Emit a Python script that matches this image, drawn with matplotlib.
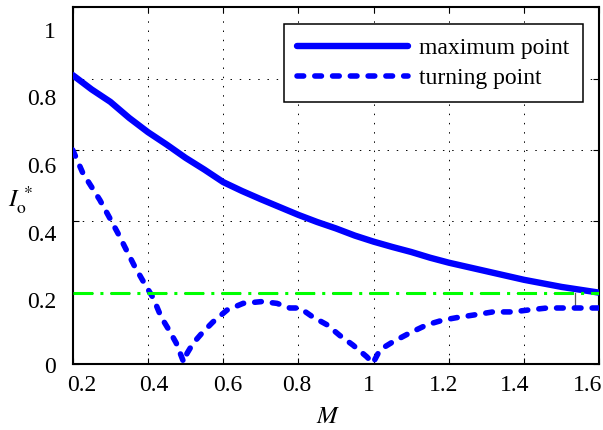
import matplotlib
matplotlib.use("Agg")
import matplotlib.pyplot as plt
from matplotlib.transforms import ScaledTranslation

# maximum point curve
m_max = [0.20, 0.25, 0.30, 0.35, 0.40, 0.45, 0.50, 0.55, 0.60, 0.65, 0.70, 0.75,
         0.80, 0.85, 0.90, 0.95, 1.00, 1.05, 1.10, 1.15, 1.20, 1.25, 1.30, 1.35,
         1.40, 1.45, 1.50, 1.55, 1.60]
i_max = [0.810, 0.770, 0.735, 0.690, 0.650, 0.615, 0.578, 0.545, 0.510, 0.485,
         0.462, 0.440, 0.418, 0.398, 0.380, 0.360, 0.343, 0.328, 0.314, 0.298,
         0.284, 0.272, 0.260, 0.248, 0.236, 0.226, 0.216, 0.208, 0.200]

# turning point curve
m_turn = [0.200, 0.227, 0.272, 0.298, 0.320, 0.363, 0.390, 0.414, 0.435, 0.456,
          0.475, 0.495, 0.504, 0.520, 0.544, 0.573, 0.610, 0.653, 0.703, 0.743,
          0.777, 0.804, 0.838, 0.876, 0.910, 0.945, 0.982, 0.998, 1.017, 1.051,
          1.096, 1.142, 1.184, 1.221, 1.264, 1.317, 1.370, 1.408, 1.461, 1.514,
          1.567, 1.600]
i_turn = [0.600, 0.535, 0.460, 0.410, 0.367, 0.277, 0.227, 0.185, 0.132, 0.095,
          0.059, 0.005, 0.030, 0.058, 0.087, 0.118, 0.151, 0.170, 0.175, 0.170,
          0.157, 0.157, 0.132, 0.110, 0.080, 0.053, 0.020, 0.002, 0.040, 0.062,
          0.087, 0.110, 0.123, 0.130, 0.137, 0.146, 0.146, 0.151, 0.157, 0.157,
          0.157, 0.157]

# horizontal reference level and the small marker between curves
ref_level = 0.2
ref_span = [0.2, 1.6]
mark_m = 1.535
mark_i = [0.157, 0.2]

x_ticks = [0.2, 0.4, 0.6, 0.8, 1.0, 1.2, 1.4, 1.6]
x_labels = ["0.2", "0.4", "0.6", "0.8", "1", "1.2", "1.4", "1.6"]
y_ticks = [0, 0.2, 0.4, 0.6, 0.8, 1.0]
y_labels = ["0", "0.2", "0.4", "0.6", "0.8", "1"]

# the exported figure has its tick labels drawn slightly off their ticks (pixels)
x_label_shift = [9, 6, 5, -2, -5, -5, -9, -12]
y_label_shift = [-1, -7, -12, -15, -18, -23]

plt.rcParams["font.family"] = ["Liberation Serif", "DejaVu Serif"]
plt.rcParams["mathtext.fontset"] = "stix"

fig = plt.figure(figsize=(6.03, 4.30), dpi=100)
ax = fig.add_axes([0.1206, 0.1535, 0.8733, 0.8295])

ax.plot(m_max, i_max, color=(0, 0, 1), lw=4.6, solid_capstyle="round",
        solid_joinstyle="round", label="maximum point", zorder=3)
ax.plot(m_turn, i_turn, color=(0, 0, 1), lw=4.0, dashes=(1.2, 2.0),
        dash_capstyle="round", label="turning point", zorder=3)
ax.plot(ref_span, [ref_level, ref_level], color=(0, 1, 0), lw=2.2,
        dashes=(6.5, 2.3, 1.0, 2.3), zorder=4)
ax.plot([mark_m, mark_m], mark_i, color="0.35", lw=0.9, zorder=2)

ax.set_xlim(0.2, 1.6)
ax.set_ylim(0, 1.0)
ax.set_xticks(x_ticks)
ax.set_xticklabels(x_labels)
ax.set_yticks(y_ticks)
ax.set_yticklabels(y_labels)
ax.tick_params(direction="in", length=4, width=0.8, top=True, right=True,
               labelsize=17)
ax.tick_params(axis="x", pad=8)
ax.tick_params(axis="y", pad=12)
ax.grid(True, color="black", lw=0.7, linestyle=(0, (1.5, 8)))
for s in ax.spines.values():
    s.set_linewidth(1.5)

for lab, dx in zip(ax.get_xticklabels(), x_label_shift):
    lab.set_transform(lab.get_transform() + ScaledTranslation(dx / 100, 0, fig.dpi_scale_trans))
for lab, dy in zip(ax.get_yticklabels(), y_label_shift):
    lab.set_transform(lab.get_transform() + ScaledTranslation(0, dy / 100, fig.dpi_scale_trans))

ax.set_xlabel("$M$", fontsize=18)
ax.xaxis.set_label_coords(0.485, -0.118)
ax.set_ylabel(r"$I_{\mathrm{o}}^{\,*}$", fontsize=18, rotation=0, va="center")
ax.yaxis.set_label_coords(-0.098, 0.46)

leg = ax.legend(loc="upper right", bbox_to_anchor=(0.9685, 0.952),
                borderaxespad=0, fontsize=17, handlelength=4.7,
                handletextpad=0.5, borderpad=0.55, labelspacing=0.38,
                fancybox=False, framealpha=1, edgecolor="black")
leg.get_frame().set_linewidth(1.1)

fig.savefig("out.png", dpi=100)
